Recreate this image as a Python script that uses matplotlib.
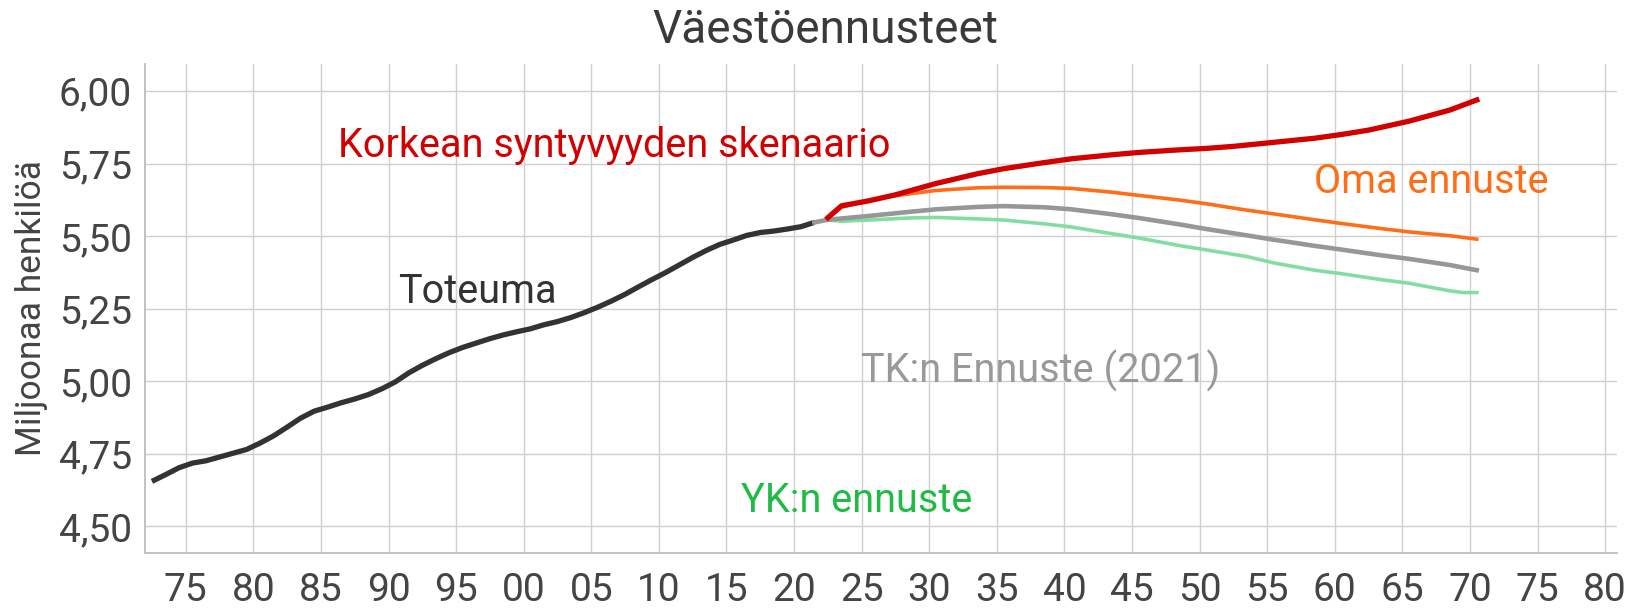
import numpy as np
import matplotlib
matplotlib.use("Agg")
import matplotlib.pyplot as plt

plt.rcParams['font.family'] = ['Roboto', 'DejaVu Sans']

# Toteuma (milj. henkeä, vuoden lopussa)
vuodet_tot = np.arange(1972, 2022)
toteuma = [4.655, 4.678, 4.702, 4.718, 4.726, 4.739, 4.752, 4.765, 4.787, 4.812,
           4.842, 4.873, 4.897, 4.911, 4.926, 4.939, 4.954, 4.974, 4.998, 5.029,
           5.055, 5.078, 5.099, 5.117, 5.132, 5.147, 5.160, 5.171, 5.181, 5.195,
           5.206, 5.220, 5.237, 5.256, 5.277, 5.300, 5.326, 5.351, 5.375, 5.401,
           5.427, 5.451, 5.472, 5.487, 5.503, 5.513, 5.518, 5.525, 5.533, 5.548]

# Korkean syntyvyyden skenaario
vuodet_korkea = [2022, 2023, 2025, 2027, 2030, 2033, 2035, 2038, 2040, 2043, 2045,
                 2048, 2050, 2052, 2055, 2058, 2060, 2062, 2065, 2068, 2070]
korkea = [5.564, 5.605, 5.622, 5.643, 5.682, 5.715, 5.733, 5.754, 5.767, 5.781, 5.789,
          5.798, 5.803, 5.810, 5.824, 5.838, 5.851, 5.866, 5.897, 5.935, 5.970]

# Oma ennuste
vuodet_oma = [2022, 2023, 2025, 2027, 2030, 2033, 2035, 2038, 2040, 2043, 2045,
              2048, 2050, 2053, 2055, 2058, 2060, 2063, 2065, 2068, 2070]
oma = [5.564, 5.600, 5.624, 5.640, 5.658, 5.667, 5.669, 5.668, 5.665, 5.652, 5.641,
       5.625, 5.612, 5.590, 5.577, 5.557, 5.544, 5.526, 5.515, 5.502, 5.490]

# TK:n ennuste (2021)
vuodet_tk = [2021, 2022, 2025, 2028, 2030, 2033, 2035, 2038, 2040, 2043, 2045,
             2048, 2050, 2053, 2055, 2058, 2060, 2063, 2065, 2068, 2070]
tk = [5.548, 5.557, 5.570, 5.584, 5.593, 5.601, 5.604, 5.600, 5.593, 5.576, 5.563,
      5.541, 5.525, 5.503, 5.488, 5.467, 5.454, 5.434, 5.422, 5.401, 5.383]

# YK:n ennuste
vuodet_yk = [2022, 2023, 2025, 2028, 2030, 2033, 2035, 2038, 2040, 2043, 2045,
             2048, 2050, 2053, 2055, 2058, 2060, 2063, 2065, 2068, 2069, 2070]
yk = [5.556, 5.552, 5.556, 5.563, 5.565, 5.560, 5.556, 5.543, 5.532, 5.509, 5.494,
      5.468, 5.453, 5.430, 5.408, 5.383, 5.371, 5.350, 5.338, 5.312, 5.306, 5.306]

x_tikit = np.arange(1975, 2081, 5)
x_tikki_nimet = ['%02d' % (v % 100) for v in x_tikit]
y_tikit = [4.50, 4.75, 5.00, 5.25, 5.50, 5.75, 6.00]
y_tikki_nimet = [('%.2f' % v).replace('.', ',') for v in y_tikit]

# pisteet piirretään vuoden puoliväliin
def keski(v):
    return np.asarray(v) + 0.5

fig = plt.figure(figsize=(16.31, 6.10), dpi=100)
ax = fig.add_axes([0.0886, 0.0939, 0.9028, 0.8012])

ax.plot(keski(vuodet_yk), yk, color='#82dda0', lw=2.6, zorder=3)
ax.plot(keski(vuodet_tk), tk, color='#979797', lw=3.3, zorder=4)
ax.plot(keski(vuodet_oma), oma, color='#ff6d17', lw=2.6, zorder=5)
ax.plot(keski(vuodet_korkea), korkea, color='#d20000', lw=3.8, zorder=6)
ax.plot(keski(vuodet_tot), toteuma, color='#333333', lw=3.8, zorder=3.5,
        solid_capstyle='butt')

fs = 28.5
ax.text(1986.27, 5.775, 'Korkean syntyvyyden skenaario', color='#d20000', fontsize=fs,
        ha='left', va='baseline')
ax.text(2058.46, 5.650, 'Oma ennuste', color='#ff6d17', fontsize=fs, ha='left', va='baseline')
ax.text(1990.71, 5.271, 'Toteuma', color='#333333', fontsize=fs, ha='left', va='baseline')
ax.text(2024.96, 4.997, 'TK:n Ennuste (2021)', color='#999999', fontsize=fs,
        ha='left', va='baseline')
ax.text(2016.09, 4.550, 'YK:n ennuste', color='#1fbb45', fontsize=fs, ha='left', va='baseline')

ax.set_xlim(1971.95, 2080.87)
ax.set_ylim(4.409, 6.094)
ax.set_xticks(x_tikit)
ax.set_xticklabels(x_tikki_nimet)
ax.set_yticks(y_tikit)
ax.set_yticklabels(y_tikki_nimet)
ax.tick_params(axis='both', length=0, labelsize=28, labelcolor='#444444')
ax.tick_params(axis='x', pad=14)
ax.tick_params(axis='y', pad=9)
ax.grid(True, color='#d0d0d0', lw=1.0)
ax.set_axisbelow(True)
for s in ['top', 'right']:
    ax.spines[s].set_visible(False)
for s in ['left', 'bottom']:
    ax.spines[s].set_color('#bdbdbd')
    ax.spines[s].set_linewidth(1.3)

ax.set_ylabel('Miljoonaa henkilöä', fontsize=25.5, color='#444444', labelpad=8)
fig.text(825 / 1631, 1 - 30 / 610, 'Väestöennusteet', fontsize=33, color='#3a3a3a',
         ha='center', va='center')

fig.savefig('out.png', dpi=100)
